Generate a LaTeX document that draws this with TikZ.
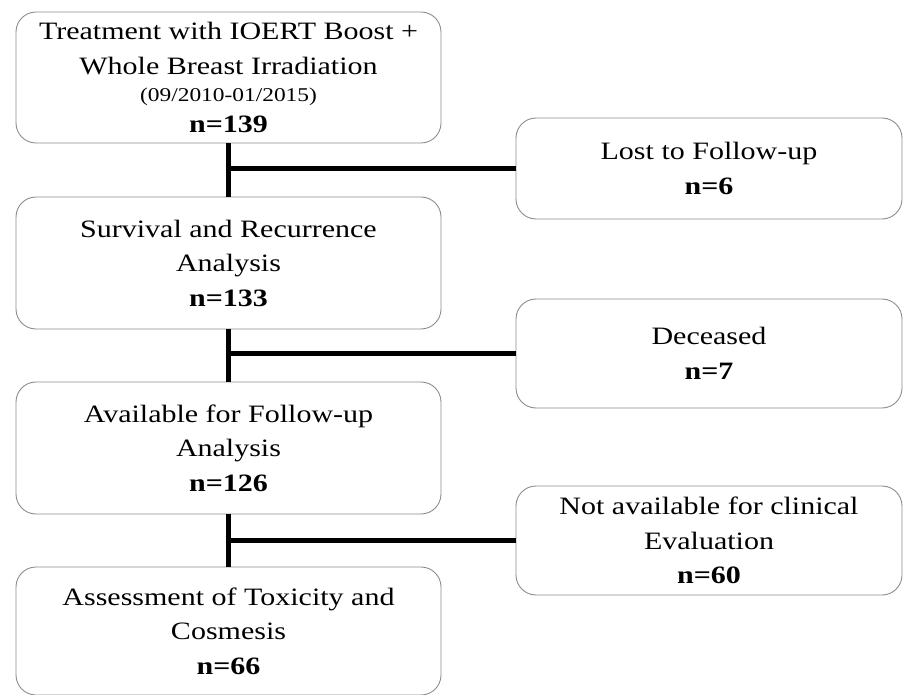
\documentclass[tikz,border=0pt]{standalone}
\usepackage{fontspec}
\setmainfont{Liberation Serif}[FakeStretch=1.2]
\begin{document}
\begin{tikzpicture}[x=1pt,y=-1pt,
  box/.style={draw=black!45, line width=0.9pt, rounded corners=20pt, fill=white,
    align=center, inner sep=0pt, font=\fontsize{25}{34.5}\selectfont},
  lbox/.style={box, minimum width=425pt},
  rbox/.style={box, minimum width=386pt},
  conn/.style={line width=4.5pt, black}]
\useasboundingbox (0,0) rectangle (903,695);
\node[lbox, minimum height=131pt] (b1) at (228.5,77.5) {Treatment with IOERT Boost +\\Whole Breast Irradiation\\[-7pt]{\fontsize{19.5}{20}\selectfont(09/2010-01/2015)}\\[-4pt]\textbf{n=139}};
\node[lbox, minimum height=132pt] (b2) at (228.5,263) {Survival and Recurrence\\Analysis\\\textbf{n=133}};
\node[lbox, minimum height=132pt] (b3) at (228.5,448) {Available for Follow-up\\Analysis\\\textbf{n=126}};
\node[lbox, minimum height=128pt] (b4) at (228.5,631) {Assessment of Toxicity and\\Cosmesis\\\textbf{n=66}};
\node[rbox, minimum height=101pt] (r1) at (709,168.5) {Lost to Follow-up\\\textbf{n=6}};
\node[rbox, minimum height=109pt] (r2) at (709,353.5) {Deceased\\\textbf{n=7}};
\node[rbox, minimum height=109pt] (r3) at (709,540.5) {Not available for clinical\\Evaluation\\\textbf{n=60}};
\draw[conn] (b1.south) -- (b2.north);
\draw[conn] (b2.south) -- (b3.north);
\draw[conn] (b3.south) -- (b4.north);
\draw[conn] (b1.south |- r1.west) -- (r1.west);
\draw[conn] (b2.south |- r2.west) -- (r2.west);
\draw[conn] (b3.south |- r3.west) -- (r3.west);
\end{tikzpicture}
\end{document}
